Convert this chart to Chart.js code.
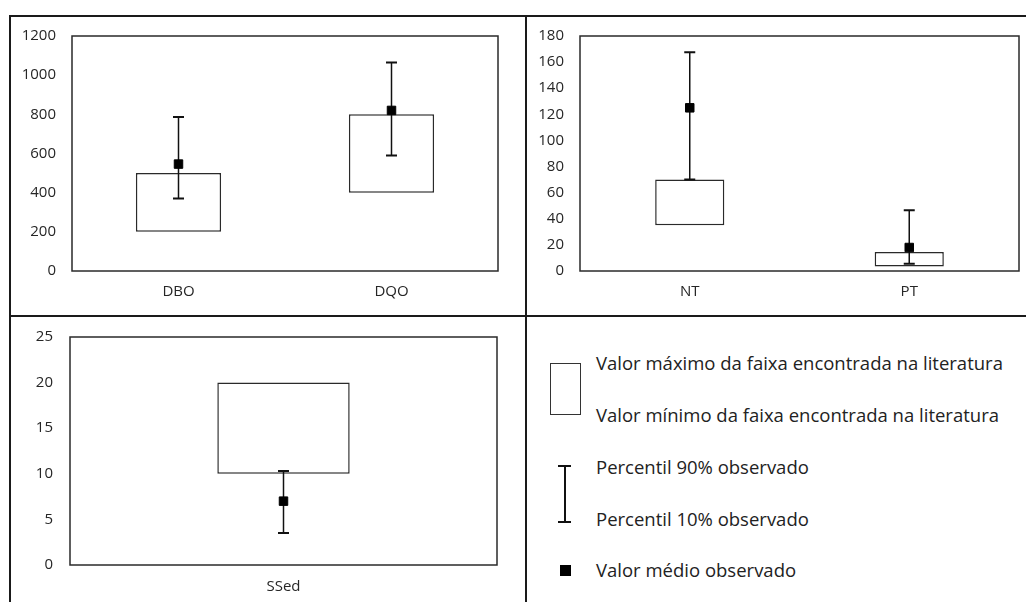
<!DOCTYPE html>
<html>
<head>
<meta charset="utf-8">
<script src="https://cdn.jsdelivr.net/npm/chart.js@4"></script>
<style>
  body { margin: 0; background: #fff; width: 1026px; height: 602px; overflow: hidden; position: relative; font-family: "Open Sans", sans-serif; }
  canvas { position: absolute; }
  .rule { position: absolute; background: #1a1a1a; }
  .legend-text { position: absolute; left: 596px; font-size: 18.5px; color: #222; line-height: 20px; white-space: nowrap; }
</style>
</head>
<body>
<div class="rule" style="left:9px; top:15px; width:1017px; height:2px;"></div>
<div class="rule" style="left:9px; top:15px; width:2px; height:587px;"></div>
<div class="rule" style="left:525px; top:15px; width:2px; height:587px;"></div>
<div class="rule" style="left:9px; top:315px; width:1017px; height:2px;"></div>

<canvas id="chart-dbo" width="515" height="304" style="left:10px; top:11px;"></canvas>
<canvas id="chart-nt" width="499" height="304" style="left:527px; top:11px;"></canvas>
<canvas id="chart-ssed" width="515" height="291" style="left:10px; top:311px;"></canvas>

<!-- legenda -->
<div style="position:absolute; left:550px; top:363px; width:29px; height:50px; border:1.5px solid #333;"></div>
<div style="position:absolute; left:564px; top:466px; width:1.5px; height:56px; background:#111;"></div>
<div style="position:absolute; left:558px; top:465px; width:13px; height:1.5px; background:#111;"></div>
<div style="position:absolute; left:558px; top:521px; width:13px; height:1.5px; background:#111;"></div>
<div style="position:absolute; left:560px; top:565px; width:11px; height:11px; background:#000;"></div>
<div class="legend-text" style="top:353px;">Valor máximo da faixa encontrada na literatura</div>
<div class="legend-text" style="top:405px;">Valor mínimo da faixa encontrada na literatura</div>
<div class="legend-text" style="top:457px;">Percentil 90% observado</div>
<div class="legend-text" style="top:509px;">Percentil 10% observado</div>
<div class="legend-text" style="top:560px;">Valor médio observado</div>

<script>
// DBO / DQO
const dboLabels = ['DBO', 'DQO'];
const dboLitMin = [200, 400];
const dboLitMax = [500, 800];
const dboP10 = [370, 590];
const dboP90 = [787, 1065];
const dboMean = [546, 820];
const dboTicks = [0, 200, 400, 600, 800, 1000, 1200];

// NT / PT
const ntLabels = ['NT', 'PT'];
const ntLitMin = [35, 3.5];
const ntLitMax = [70, 14.5];
const ntP10 = [70, 5.6];
const ntP90 = [167.5, 46.5];
const ntMean = [125, 18];
const ntTicks = [0, 20, 40, 60, 80, 100, 120, 140, 160, 180];

// SSed
const ssLabels = ['SSed'];
const ssLitMin = [10];
const ssLitMax = [20];
const ssP10 = [3.5];
const ssP90 = [10.3];
const ssMean = [7];
const ssTicks = [0, 5, 10, 15, 20, 25];

const TEXT = '#262626';
const TICK_FONT = { family: 'Open Sans', size: 15, lineHeight: 1.2 };

// moldura da área do gráfico
const plotFrame = {
    id: 'plotFrame',
    beforeDatasetsDraw(chart) {
        const { ctx, chartArea: a } = chart;
        ctx.save();
        ctx.strokeStyle = '#2a2a2a';
        ctx.lineWidth = 1.5;
        ctx.strokeRect(a.left, a.top, a.right - a.left, a.bottom - a.top);
        ctx.restore();
    }
};

// barras de percentil 10–90, desenhadas logo após as caixas
const errorBars = {
    id: 'errorBars',
    afterDatasetDraw(chart, args, opts) {
        if (args.index !== 1) return;
        const { ctx, scales: { x, y } } = chart;
        ctx.save();
        ctx.strokeStyle = '#111';
        opts.low.forEach((lo, i) => {
            const cx = x.getPixelForValue(i);
            const yLo = y.getPixelForValue(lo);
            const yHi = y.getPixelForValue(opts.high[i]);
            ctx.lineWidth = 1.5;
            ctx.beginPath();
            ctx.moveTo(cx, yLo);
            ctx.lineTo(cx, yHi);
            ctx.stroke();
            ctx.lineWidth = 2;
            ctx.beginPath();
            ctx.moveTo(cx - 5.5, yLo); ctx.lineTo(cx + 5.5, yLo);
            ctx.moveTo(cx - 5.5, yHi); ctx.lineTo(cx + 5.5, yHi);
            ctx.stroke();
        });
        ctx.restore();
    }
};

function makeChart(id, s) {
    const canvas = document.getElementById(id);
    return new Chart(canvas.getContext('2d'), {
        type: 'bar',
        data: {
            labels: s.labels,
            datasets: [
                {
                    type: 'line',
                    label: 'Valor médio observado',
                    data: s.mean,
                    showLine: false,
                    pointStyle: 'rect',
                    pointRadius: 6,
                    pointBorderWidth: 1,
                    pointBackgroundColor: '#000',
                    pointBorderColor: '#000'
                },
                {
                    label: 'Faixa da literatura',
                    data: s.min.map((v, i) => [v, s.max[i]]),
                    backgroundColor: '#fff',
                    borderColor: '#2a2a2a',
                    borderWidth: 1.5,
                    borderSkipped: false,
                    barPercentage: s.barPct,
                    categoryPercentage: 1
                }
            ]
        },
        options: {
            responsive: false,
            animation: false,
            layout: { padding: { top: 0, right: s.padRight, left: 0, bottom: 0 } },
            plugins: {
                legend: { display: false },
                tooltip: { enabled: false },
                errorBars: { low: s.p10, high: s.p90 }
            },
            scales: {
                x: {
                    grid: { display: false, drawTicks: false },
                    border: { display: false },
                    ticks: { color: TEXT, font: TICK_FONT, padding: s.xPad },
                    afterFit: (scale) => { scale.height = s.xHeight; }
                },
                y: {
                    min: s.ticks[0],
                    max: s.ticks[s.ticks.length - 1],
                    afterBuildTicks: (scale) => { scale.ticks = s.ticks.map(v => ({ value: v })); },
                    grid: { display: false, drawTicks: false },
                    border: { display: false },
                    ticks: { color: TEXT, font: TICK_FONT, padding: s.yPad, callback: (v) => String(v) },
                    afterFit: (scale) => { scale.width = s.yWidth; }
                }
            }
        },
        plugins: [plotFrame, errorBars]
    });
}

makeChart('chart-dbo', {
    labels: dboLabels, min: dboLitMin, max: dboLitMax, p10: dboP10, p90: dboP90, mean: dboMean,
    ticks: dboTicks, barPct: 0.4, padRight: 27, yWidth: 62, xHeight: 44, xPad: 12, yPad: 16
});
makeChart('chart-nt', {
    labels: ntLabels, min: ntLitMin, max: ntLitMax, p10: ntP10, p90: ntP90, mean: ntMean,
    ticks: ntTicks, barPct: 0.315, padRight: 7, yWidth: 53, xHeight: 44, xPad: 12, yPad: 16
});
makeChart('chart-ssed', {
    labels: ssLabels, min: ssLitMin, max: ssLitMax, p10: ssP10, p90: ssP90, mean: ssMean,
    ticks: ssTicks, barPct: 0.31, padRight: 28, yWidth: 60, xHeight: 37, xPad: 13, yPad: 17
});
</script>
</body>
</html>
